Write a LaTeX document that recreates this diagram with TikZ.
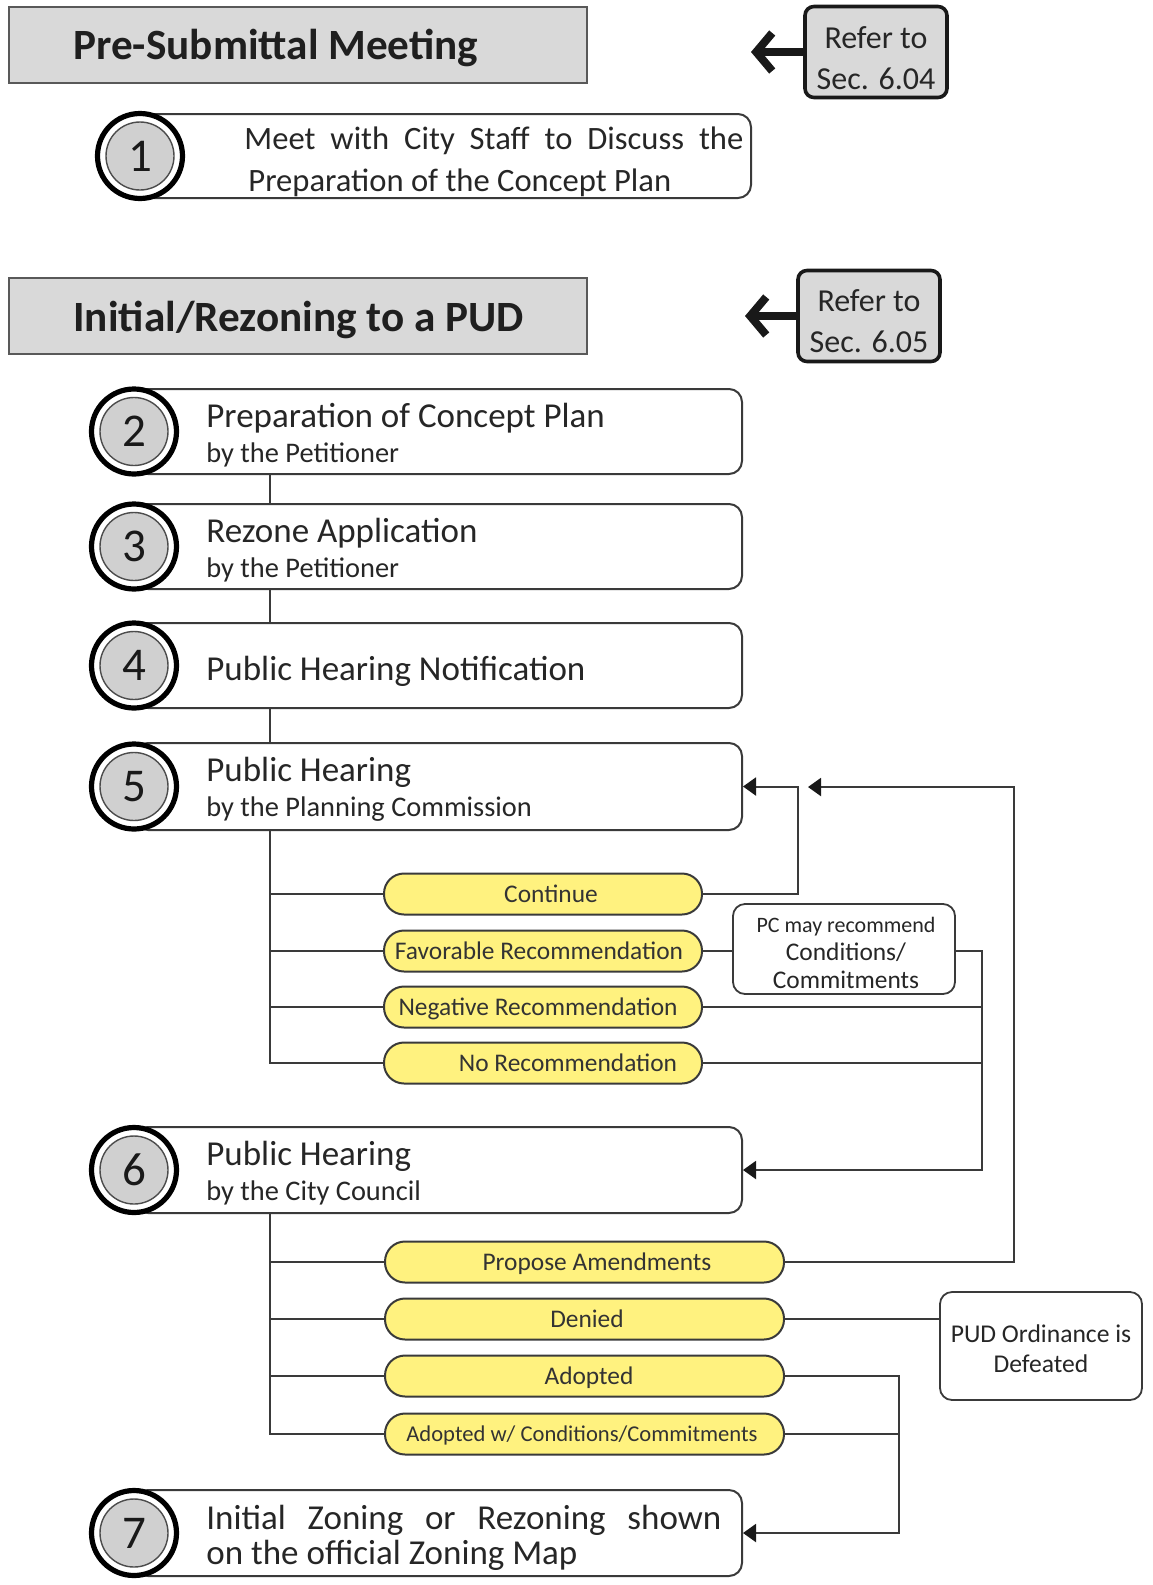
\documentclass[tikz,border=0pt]{standalone}
\usepackage{fontspec}
\setmainfont{Carlito}
\usetikzlibrary{arrows.meta}
\definecolor{hdrfill}{HTML}{D9D9D9}
\definecolor{numfill}{HTML}{D0D0D0}
\definecolor{pillfill}{HTML}{FFF27F}
\definecolor{lncol}{HTML}{3A3A3A}
\definecolor{txtcol}{HTML}{262626}
\tikzset{
  hdrbox/.style={draw=black!65, line width=0.9pt, fill=hdrfill, minimum width=289pt, minimum height=38pt, inner sep=0pt},
  hdrtxt/.style={anchor=base west, font=\fontsize{21.6}{26}\selectfont\bfseries, text=black!88, inner sep=0pt},
  refbox/.style={draw=black!90, line width=1.8pt, fill=hdrfill, rounded corners=4.5pt, minimum width=71pt, minimum height=45.5pt, inner sep=0pt},
  reftxt/.style={align=center, font=\fontsize{16}{20.5}\selectfont, text=black!85, inner sep=0pt},
  refarrow/.style={line width=4pt, black!90, -{Straight Barb[length=8pt,width=19pt]}},
  stepbox/.style={draw=lncol, line width=1pt, fill=white, rounded corners=6.5pt, inner sep=0pt, minimum height=42.5pt, minimum width=303.5pt},
  ring/.style={circle, draw=black, line width=2.6pt, fill=white, minimum size=42.5pt, inner sep=0pt},
  num/.style={circle, draw=black!70, line width=0.7pt, fill=numfill, minimum size=34pt, inner sep=0pt, font=\fontsize{23.5}{23.5}\selectfont, text=black!90},
  steptitle/.style={anchor=base west, font=\fontsize{17.5}{21}\selectfont, text=txtcol, inner sep=0pt},
  stepsub/.style={anchor=base west, font=\fontsize{14.2}{17}\selectfont, text=txtcol, inner sep=0pt},
  pillA/.style={draw=lncol, line width=1pt, fill=pillfill, rounded corners=10pt, minimum width=159pt, minimum height=20.5pt, inner sep=0pt},
  pillB/.style={pillA, minimum width=199.5pt},
  pilltxt/.style={font=\fontsize{12.7}{15}\selectfont, text=black!80, inner sep=0pt, text height=8.2pt, text depth=0pt},
  notebox/.style={draw=lncol, line width=0.9pt, fill=white, rounded corners=6pt, inner sep=0pt},
  notetxt/.style={align=center, text=black!85, inner sep=0pt},
  conn/.style={draw=lncol, line width=1pt},
  arr/.style={conn, -{Triangle[length=6.5pt,width=9pt,color=black!90]}}
}
\begin{document}
\begin{tikzpicture}[x=0.5pt,y=-0.5pt]
\useasboundingbox (0,0) rectangle (1152,1585);
% headers
\node[hdrbox] (h1) at (298,45) {};
\node[hdrtxt] (h1t) at (73,59) {Pre-Submittal Meeting};
\node[hdrbox] (h2) at (298,316) {};
\node[hdrtxt] (h2t) at (73,331) {Initial/Rezoning to a PUD};
% refer boxes
\node[refbox] (r1) at (876,52) {};
\node[reftxt] (r1t) at (876,58) {Refer to\\Sec. 6.04};
\coordinate (r1a) at (751,52);
\draw[refarrow] (r1.west) -- (r1a);
\node[refbox] (r2) at (869,316) {};
\node[reftxt] (r2t) at (869,321) {Refer to\\Sec. 6.05};
\coordinate (r2a) at (745,316);
\draw[refarrow] (r2.west) -- (r2a);
% step 1
\node[stepbox, minimum width=305pt, minimum height=42pt] (s1) at (446,156) {};
\node[ring] (o1) at (s1.west) {};
\node[num] (n1) at (s1.west) {1};
\node[anchor=base west, font=\fontsize{16.3}{20}\selectfont, text=txtcol, inner sep=0pt] (s1a) at (244,149) {\makebox[249.5pt][s]{Meet with City Staff to Discuss the}};
\node[anchor=base west, font=\fontsize{16.3}{20}\selectfont, text=txtcol, inner sep=0pt] (s1b) at (248,191) {Preparation of the Concept Plan};
% steps 2-7
\node[stepbox] (s2) at (438.5,431.5) {};
\node[stepbox] (s3) at (438.5,546.5) {};
\node[stepbox] (s4) at (438.5,665.5) {};
\node[stepbox, minimum height=43.5pt] (s5) at (438.5,786.5) {};
\node[stepbox, minimum height=43pt] (s6) at (438.5,1170) {};
\node[stepbox, minimum height=43pt] (s7) at (438.5,1533) {};
\foreach \s/\n in {s2/2,s3/3,s4/4,s5/5,s6/6,s7/7}{
  \node[ring] (o\n) at (\s.west) {};
  \node[num] (n\n) at (\s.west) {\n};
}
\node[steptitle] (s2a) at (206,427) {Preparation of Concept Plan};
\node[stepsub] (s2b) at (206,462) {by the Petitioner};
\node[steptitle] (s3a) at (206,542) {Rezone Application};
\node[stepsub] (s3b) at (206,577) {by the Petitioner};
\node[steptitle] (s4a) at (206,680) {Public Hearing Notification};
\node[steptitle] (s5a) at (206,781) {Public Hearing};
\node[stepsub] (s5b) at (206,816) {by the Planning Commission};
\node[steptitle] (s6a) at (206,1165) {Public Hearing};
\node[stepsub] (s6b) at (206,1200) {by the City Council};
\node[steptitle] (s7a) at (206,1529) {\makebox[257.5pt][s]{Initial Zoning or Rezoning shown}};
\node[steptitle] (s7b) at (206,1564) {on the official Zoning Map};
% pills set 1
\node[pillA] (pCo) at (543,894) {};
\node[pillA] (pFa) at (543,951) {};
\node[pillA] (pNe) at (543,1007) {};
\node[pillA] (pNo) at (543,1063) {};
\node[pilltxt] (lCo) at (551,894) {Continue};
\node[pilltxt] (lFa) at (539,951) {Favorable Recommendation};
\node[pilltxt] (lNe) at (538,1007) {Negative Recommendation};
\node[pilltxt] (lNo) at (568,1063) {No Recommendation};
% pills set 2
\node[pillB] (pPr) at (584.5,1262) {};
\node[pillB] (pDe) at (584.5,1319) {};
\node[pillB] (pAd) at (584.5,1376) {};
\node[pillB] (pAw) at (584.5,1434) {};
\node[pilltxt] (lPr) at (597,1262) {Propose Amendments};
\node[pilltxt] (lDe) at (587,1319) {Denied};
\node[pilltxt] (lAd) at (589,1376) {Adopted};
\node[pilltxt, font=\fontsize{11.3}{13}\selectfont, text height=7.3pt] (lAw) at (582,1434) {Adopted w/ Conditions/Commitments};
% note boxes
\node[notebox, minimum width=111pt, minimum height=45pt] (pc) at (844,949) {};
\node[notetxt, font=\fontsize{12.7}{14}\selectfont] (pct) at (846,953) {{\fontsize{11}{14}\selectfont PC may recommend}\\Conditions/\\Commitments};
\node[notebox, minimum width=101pt, minimum height=54pt] (pud) at (1041,1346) {};
\node[notetxt, font=\fontsize{12.8}{15}\selectfont] (pudt) at (1041,1349) {PUD Ordinance is\\Defeated};
% connectors
\coordinate (tx) at (270,0);
\draw[conn] (s2.south -| tx) -- (s3.north -| tx);
\draw[conn] (s3.south -| tx) -- (s4.north -| tx);
\draw[conn] (s4.south -| tx) -- (s5.north -| tx);
\draw[conn] (s5.south -| tx) |- (pNo.west);
\foreach \p in {pCo,pFa,pNe} \draw[conn] (tx |- \p.west) -- (\p.west);
\draw[conn] (s6.south -| tx) |- (pAw.west);
\foreach \p in {pPr,pDe,pAd} \draw[conn] (tx |- \p.west) -- (\p.west);
% continue
\coordinate (bc) at (798,0);
\draw[arr] (pCo.east) -| (bc |- s5.east) -- (s5.east);
% favorable / negative / none
\coordinate (bf) at (982,0);
\draw[conn] (pFa.east) -- (pc.west |- pFa.east);
\draw[arr] (pc.east |- pFa.east) -| (bf |- s6.east) -- (s6.east);
\draw[conn] (pNe.east) -- (bf |- pNe.east);
\draw[conn] (pNo.east) -- (bf |- pNo.east);
% propose
\coordinate (bp) at (1014,0);
\coordinate (pa) at (808,787);
\draw[arr] (pPr.east) -| (bp |- pa) -- (pa);
% denied
\draw[conn] (pDe.east) -- (pud.west |- pDe.east);
% adopted
\coordinate (ba) at (899,0);
\draw[arr] (pAd.east) -| (ba |- s7.east) -- (s7.east);
\draw[conn] (pAw.east) -- (ba |- pAw.east);
\end{tikzpicture}
\end{document}
